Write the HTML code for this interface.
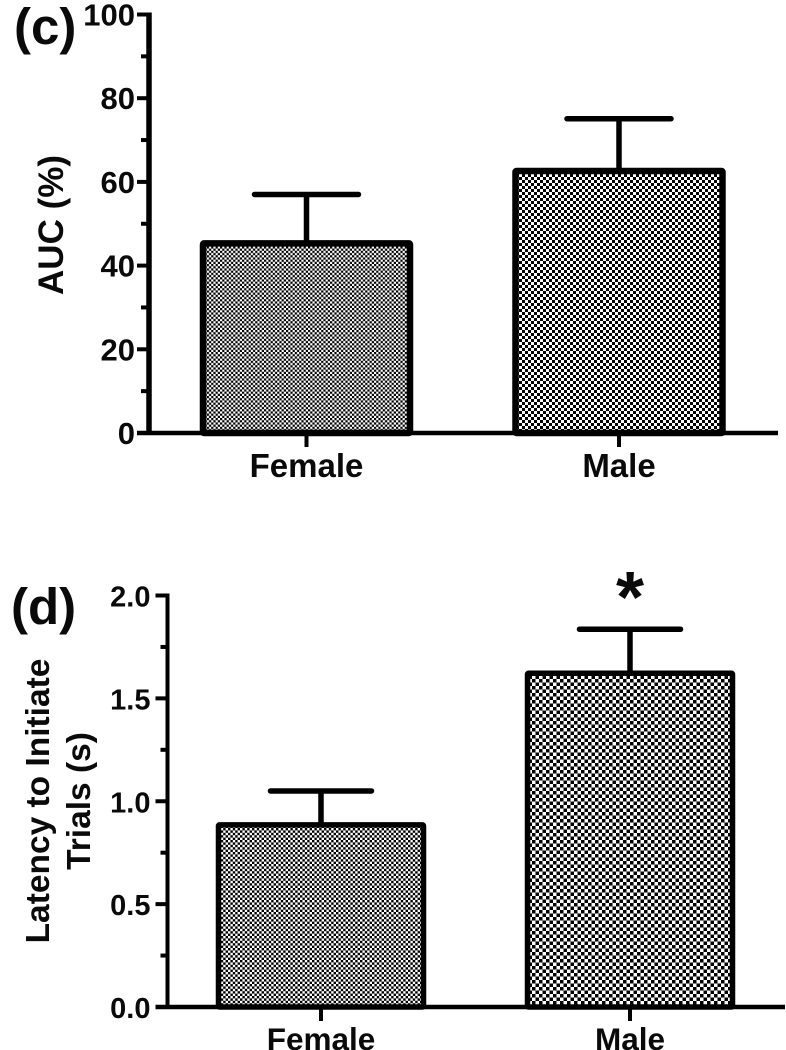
<!DOCTYPE html>
<html>
<head>
<meta charset="utf-8">
<title>AUC and latency by sex</title>
<style>
html,body{margin:0;padding:0;background:#fff;}
svg{display:block;}
text{font-family:"Liberation Sans",sans-serif;font-weight:bold;fill:#0a0a0a;}
</style>
</head>
<body>
<svg id="figure" xmlns="http://www.w3.org/2000/svg" width="786" height="1050" viewBox="0 0 786 1050">
<defs>
<pattern id="p-c-f" patternUnits="userSpaceOnUse" width="4.4" height="4.4"><rect width="4.4" height="4.4" fill="#fff"/><rect width="2.2" height="2.2" fill="#000"/><rect x="2.2" y="2.2" width="2.2" height="2.2" fill="#000"/></pattern>
<pattern id="p-c-m" patternUnits="userSpaceOnUse" width="6" height="6"><rect width="6" height="6" fill="#fff"/><rect width="3" height="3" fill="#000"/><rect x="3" y="3" width="3" height="3" fill="#000"/></pattern>
<pattern id="p-d-f" patternUnits="userSpaceOnUse" width="4.8" height="4.8"><rect width="4.8" height="4.8" fill="#fff"/><rect width="2.4" height="2.4" fill="#000"/><rect x="2.4" y="2.4" width="2.4" height="2.4" fill="#000"/></pattern>
<pattern id="p-d-m" patternUnits="userSpaceOnUse" width="7" height="7"><rect width="7" height="7" fill="#fff"/><rect width="3.5" height="3.5" fill="#000"/><rect x="3.5" y="3.5" width="3.5" height="3.5" fill="#000"/></pattern>
</defs>
<text x="14" y="44" font-size="51">(c)</text>
<text x="11" y="624" font-size="51">(d)</text>
<text x="630" y="622" font-size="72" text-anchor="middle">*</text>
<text transform="translate(63,225) rotate(-90)" font-size="35" text-anchor="middle">AUC (%)</text>
<text transform="translate(49,801) rotate(-90)" font-size="33.5" text-anchor="middle">Latency to Initiate</text>
<text transform="translate(90,801) rotate(-90)" font-size="33.5" text-anchor="middle">Trials (s)</text>
<g id="plot-c"></g>
<g id="plot-d"></g>
</svg>
<script>
var categories = ['Female', 'Male'];
var aucValues = [45.3, 62.6];
var aucErrors = [11.7, 12.5];
var aucMajorTicks = [0, 20, 40, 60, 80, 100];
var aucMinorTicks = [10, 30, 50, 70, 90];
var aucTickLabels = ['0', '20', '40', '60', '80', '100'];
var latencyValues = [0.885, 1.622];
var latencyErrors = [0.165, 0.214];
var latencyMajorTicks = [0, 0.5, 1, 1.5, 2];
var latencyMinorTicks = [0.25, 0.75, 1.25, 1.75];
var latencyTickLabels = ['0.0', '0.5', '1.0', '1.5', '2.0'];

var NS = 'http://www.w3.org/2000/svg';

function make(parent, tag, attrs) {
  var el = document.createElementNS(NS, tag);
  for (var k in attrs) el.setAttribute(k, attrs[k]);
  parent.appendChild(el);
  return el;
}

function drawPlot(cfg) {
  var g = document.getElementById(cfg.id);
  function yScale(v) { return cfg.y0 + (cfg.yTop - cfg.y0) * v / cfg.yMax; }

  cfg.values.forEach(function (v, i) {
    var cx = cfg.centers[i];
    var top = yScale(v);
    var errTop = yScale(v + cfg.errors[i]);

    var stem = make(g, 'line', {x1: cx, x2: cx, y1: top, y2: errTop, stroke: '#000', 'stroke-width': 5.5});
    
    

    var cap = make(g, 'line', {x1: cx - cfg.capHalf, x2: cx + cfg.capHalf, y1: errTop, y2: errTop, stroke: '#000', 'stroke-width': 5.5, 'stroke-linecap': 'round'});
    
    

    var bar = make(g, 'rect', {x: cx - cfg.barHalf, y: top, width: cfg.barHalf * 2, height: cfg.y0 - top, fill: 'url(#' + cfg.patterns[i] + ')', stroke: '#000', 'stroke-width': cfg.barStroke, rx: 1});
    
    

    var xTick = make(g, 'line', {x1: cx, x2: cx, y1: cfg.y0, y2: cfg.y0 + 14, stroke: '#000', 'stroke-width': 4});
    
    

    var xLabel = make(g, 'text', {x: cx, y: cfg.xLabelY, 'font-size': cfg.xFont, 'text-anchor': 'middle'});
    xLabel.textContent = categories[i];
    
    
  });

  var yAxis = make(g, 'line', {x1: cfg.axisX, x2: cfg.axisX, y1: yScale(cfg.yMax) - 2, y2: cfg.y0 + 2, stroke: '#000', 'stroke-width': cfg.axisStroke});
  
  

  var xAxis = make(g, 'line', {x1: cfg.axisX - cfg.majorLen, x2: cfg.xEnd, y1: cfg.y0, y2: cfg.y0, stroke: '#000', 'stroke-width': 4.5});
  
  

  cfg.major.forEach(function (t, i) {
    var y = yScale(t);
    var tick = make(g, 'line', {x1: cfg.axisX - cfg.majorLen, x2: cfg.axisX, y1: y, y2: y, stroke: '#000', 'stroke-width': 4});
    
    

    var label = make(g, 'text', {x: cfg.axisX - cfg.labelGap, y: y + 11, 'font-size': cfg.yFont, 'text-anchor': 'end'});
    label.textContent = cfg.labels[i];
    
    
  });

  cfg.minor.forEach(function (t) {
    var y = yScale(t);
    var tick = make(g, 'line', {x1: cfg.axisX - cfg.minorLen, x2: cfg.axisX, y1: y, y2: y, stroke: '#000', 'stroke-width': 4});
    
    
  });
}

drawPlot({
  id: 'plot-c', values: aucValues, errors: aucErrors, major: aucMajorTicks, minor: aucMinorTicks, labels: aucTickLabels,
  yMax: 100, y0: 433, yTop: 14.5, axisX: 149, xEnd: 778, centers: [306.5, 619], barHalf: 103.5, capHalf: 52, barStroke: 6.5,
  axisStroke: 5.5, majorLen: 12, minorLen: 8, labelGap: 14, yFont: 31, xFont: 33, xLabelY: 477, patterns: ['p-c-f', 'p-c-m']
});
drawPlot({
  id: 'plot-d', values: latencyValues, errors: latencyErrors, major: latencyMajorTicks, minor: latencyMinorTicks, labels: latencyTickLabels,
  yMax: 2, y0: 1007, yTop: 595.5, axisX: 167.5, xEnd: 785, centers: [321, 630], barHalf: 102.5, capHalf: 50.5, barStroke: 5.5,
  axisStroke: 4, majorLen: 12, minorLen: 7, labelGap: 17, yFont: 29, xFont: 31.5, xLabelY: 1050, patterns: ['p-d-f', 'p-d-m']
});
</script>
</body>
</html>
